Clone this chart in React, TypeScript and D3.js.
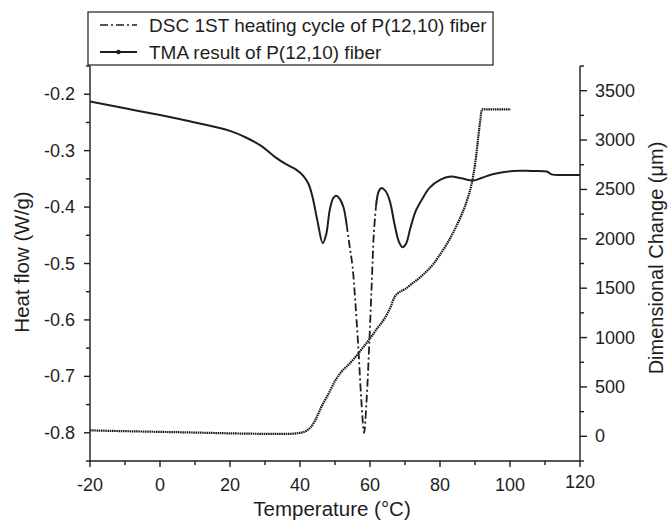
import React from "react";
import * as d3 from "d3";

// ---- data ----
const dscTemp = [-20, -10, 0, 10, 20, 25, 29, 33, 36, 39, 41, 42.5, 43.5, 45, 46.5, 47.5, 48.5, 49.5, 50.3, 51.3, 52.4, 53.3, 54.2, 55, 55.8, 56.7, 57.5, 58.3, 59, 59.8, 60.5, 61.1, 61.7, 62.5, 63.3, 64.5, 65.7, 67, 68.3, 69.3, 70.3, 71.5, 73, 75, 77, 80, 83, 86, 89.5, 92, 95, 101, 106, 110.5, 111.9, 115, 120];
const dscHeat = [-0.213, -0.225, -0.237, -0.25, -0.265, -0.278, -0.292, -0.312, -0.324, -0.334, -0.345, -0.36, -0.38, -0.425, -0.464, -0.448, -0.405, -0.384, -0.38, -0.385, -0.4, -0.43, -0.47, -0.505, -0.567, -0.653, -0.74, -0.8, -0.745, -0.641, -0.535, -0.446, -0.399, -0.372, -0.366, -0.372, -0.39, -0.43, -0.462, -0.471, -0.465, -0.438, -0.408, -0.385, -0.366, -0.352, -0.346, -0.349, -0.353, -0.348, -0.342, -0.336, -0.336, -0.337, -0.342, -0.343, -0.343];

const tmaTemp = [-20, -10, 0, 10, 20, 30, 36, 40, 42, 43, 44, 45, 46, 48, 50, 52, 54, 56, 58, 60, 62, 64, 66, 67, 68, 70, 72, 74, 76, 78, 80, 82, 84, 86, 88, 89, 90, 91, 91.5, 92, 94, 96, 98, 100.2];
const tmaChange = [60, 52, 45, 38, 30, 25, 24, 35, 60, 90, 140, 210, 290, 420, 560, 660, 730, 810, 900, 990, 1090, 1185, 1320, 1410, 1450, 1490, 1545, 1600, 1665, 1740, 1840, 1950, 2080, 2230, 2420, 2550, 2750, 3050, 3200, 3310, 3310, 3310, 3310, 3310];

const xTicks = [-20, 0, 20, 40, 60, 80, 100, 120];
const xMinor = [-10, 10, 30, 50, 70, 90, 110];
const leftTicks = [-0.8, -0.7, -0.6, -0.5, -0.4, -0.3, -0.2];
const leftLabels = ["-0.8", "-0.7", "-0.6", "-0.5", "-0.4", "-0.3", "-0.2"];
const leftMinor = [-0.85, -0.75, -0.65, -0.55, -0.45, -0.35, -0.25, -0.15];
const rightTicks = [0, 500, 1000, 1500, 2000, 2500, 3000, 3500];
const rightMinor = [-250, 250, 750, 1250, 1750, 2250, 2750, 3250, 3750];

const dscLabel = "DSC 1ST heating cycle of P(12,10) fiber";
const tmaLabel = "TMA result of P(12,10) fiber";

const W = 668, H = 521;
const FONT = "'Liberation Sans', Arial, sans-serif";
const INK = "#1e1e1e";

export default function App() {
  const x = d3.scaleLinear().domain([-20, 120]).range([90, 580]);
  const yL = d3.scaleLinear().domain([-0.85, -0.15]).range([461, 66]);
  const yR = d3.scaleLinear().domain([-250, 3750]).range([461, 66]);

  const dsc = dscTemp.map((t, i) => [t, dscHeat[i]] as [number, number]);
  const tma = tmaTemp.map((t, i) => [t, tmaChange[i]] as [number, number]);

  const lineL = d3.line<[number, number]>().x(d => x(d[0])).y(d => yL(d[1])).curve(d3.curveCatmullRom.alpha(0.5));
  const lineR = d3.line<[number, number]>().x(d => x(d[0])).y(d => yR(d[1])).curve(d3.curveMonotoneX);

  const dscA = dsc.filter(d => d[0] <= 53.3);
  const dscB = dsc.filter(d => d[0] >= 53.3 && d[0] <= 61.7);
  const dscC = dsc.filter(d => d[0] >= 61.7);

  const x0 = x.range()[0], x1 = x.range()[1];
  const yb = yL.range()[0], yt = yL.range()[1];

  return (
    <svg width={W} height={H} style={{ position: "absolute", left: 0, top: 0, background: "#fff" }} fontFamily={FONT}>
      <rect x={0} y={0} width={W} height={H} fill="#fff" />
      {/* curves */}
      <path d={lineR(tma) || ""} fill="none" stroke="#141414" strokeWidth={2.2} strokeDasharray="1.5 0.7" />
      <path d={lineL(dscA) || ""} fill="none" stroke={INK} strokeWidth={2} />
      <path d={lineL(dscB) || ""} fill="none" stroke={INK} strokeWidth={1.8} strokeDasharray="8 3 2 3" />
      <path d={lineL(dscC) || ""} fill="none" stroke={INK} strokeWidth={2} />

      {/* bottom axis */}
      <line x1={x0} x2={x1} y1={yb} y2={yb} stroke={INK} strokeWidth={1.4} />
      {xTicks.map(t => (
        <g key={"xt" + t}>
          <line x1={x(t)} x2={x(t)} y1={yb} y2={yb + 6} stroke={INK} strokeWidth={1.4} />
          <text x={x(t)} y={t === 120 ? 488 : 491} textAnchor="middle" fontSize={18} fill={INK}>{t}</text>
        </g>
      ))}
      {xMinor.map(t => (
        <line key={"xm" + t} x1={x(t)} x2={x(t)} y1={yb} y2={yb + 4} stroke={INK} strokeWidth={1.4} />
      ))}
      <text x={332} y={516} textAnchor="middle" fontSize={20.5} fill={INK}>Temperature (°C)</text>

      {/* left axis */}
      <line x1={x0} x2={x0} y1={yt} y2={yb} stroke={INK} strokeWidth={1.4} />
      {leftTicks.map((t, i) => (
        <g key={"lt" + i}>
          <line x1={x0 - 6} x2={x0} y1={yL(t)} y2={yL(t)} stroke={INK} strokeWidth={1.4} />
          <text x={75} y={yL(t) + 6} textAnchor="end" fontSize={18} fill={INK}>{leftLabels[i]}</text>
        </g>
      ))}
      {leftMinor.map((t, i) => (
        <line key={"lm" + i} x1={x0 - 4} x2={x0} y1={yL(t)} y2={yL(t)} stroke={INK} strokeWidth={1.4} />
      ))}
      <text transform={`translate(29,262) rotate(-90)`} textAnchor="middle" fontSize={20.5} fill={INK}>Heat flow (W/g)</text>

      {/* right axis */}
      <line x1={x1} x2={x1} y1={yt} y2={yb} stroke={INK} strokeWidth={1.4} />
      {rightTicks.map(t => (
        <g key={"rt" + t}>
          <line x1={x1} x2={x1 + 7} y1={yR(t)} y2={yR(t)} stroke={INK} strokeWidth={1.4} />
          <text x={595} y={yR(t) + 6} textAnchor="start" fontSize={18} fill={INK}>{t}</text>
        </g>
      ))}
      {rightMinor.map(t => (
        <line key={"rm" + t} x1={x1} x2={x1 + 4} y1={yR(t)} y2={yR(t)} stroke={INK} strokeWidth={1.4} />
      ))}
      <text transform={`translate(663,258) rotate(-90)`} textAnchor="middle" fontSize={20} fill={INK}>Dimensional Change (μm)</text>

      {/* legend */}
      <rect x={88} y={12} width={405} height={53} fill="#fff" stroke={INK} strokeWidth={1.2} />
      <line x1={100} x2={137} y1={25} y2={25} stroke={INK} strokeWidth={1.6} strokeDasharray="8 3 2 3" />
      <text x={149} y={31.5} fontSize={19} fill={INK}>{dscLabel}</text>
      <line x1={100} x2={137} y1={52} y2={52} stroke={INK} strokeWidth={1.8} />
      <circle cx={118.5} cy={52} r={2.2} fill={INK} />
      <text x={149} y={58.5} fontSize={19} fill={INK}>{tmaLabel}</text>
    </svg>
  );
}
